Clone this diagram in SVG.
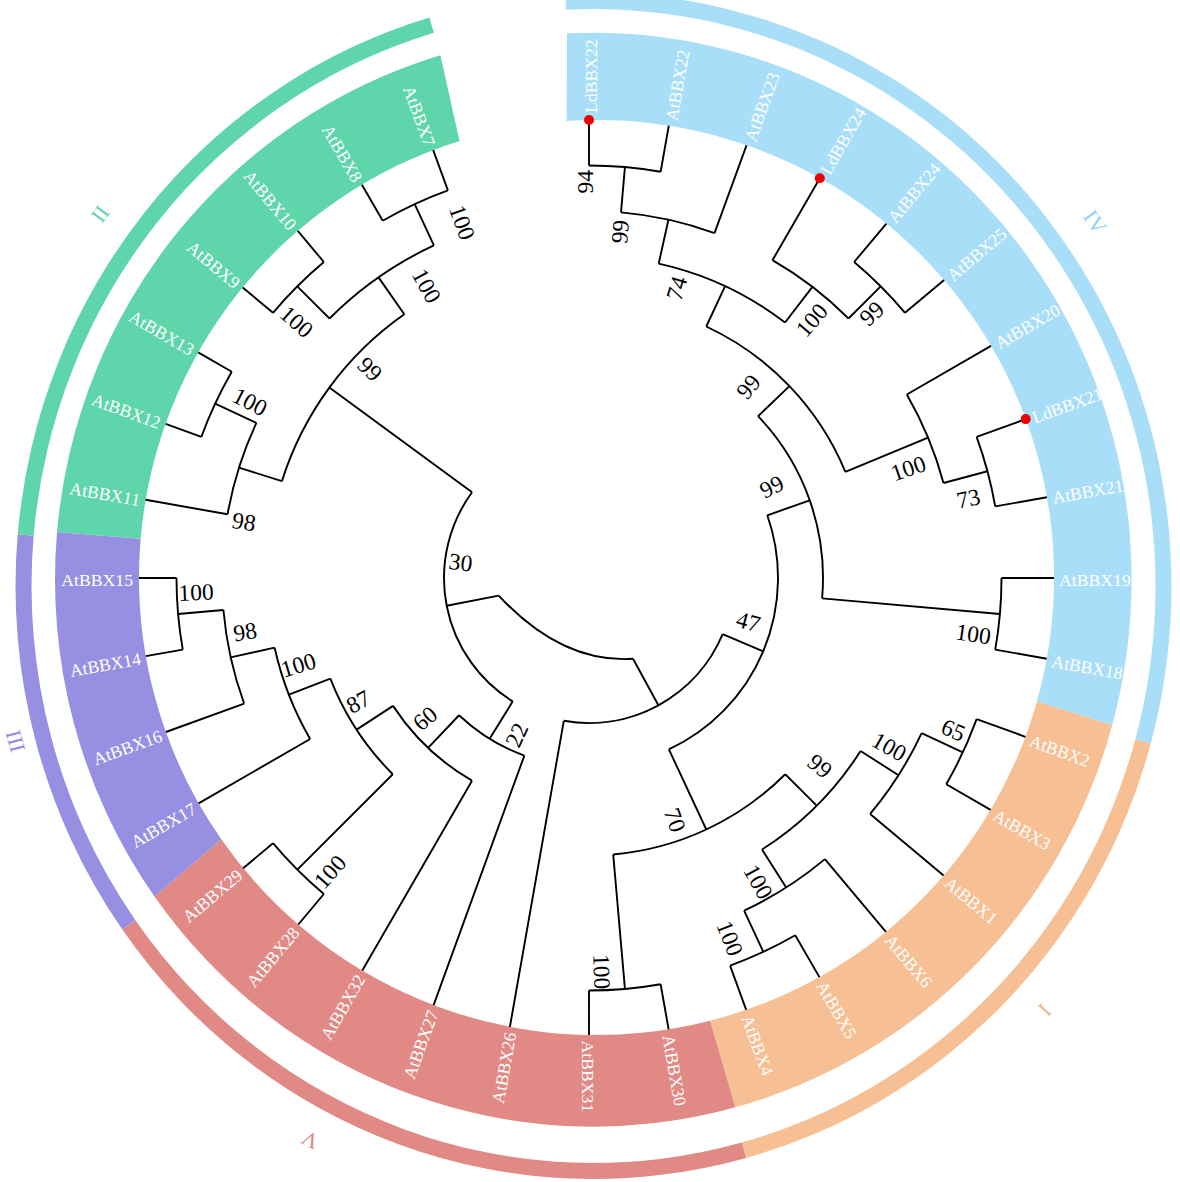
<svg xmlns="http://www.w3.org/2000/svg" width="1180" height="1182" viewBox="0 0 1180 1182">
<style>
.br{fill:none;stroke:#000;stroke-width:1.9}
.lf{font-family:"Liberation Serif","Times New Roman",serif;font-size:17.7px;fill:#fff}
.lfl{text-anchor:end}
.bs{font-family:"Liberation Serif","Times New Roman",serif;font-size:23.5px;fill:#000;text-anchor:middle}
.gl{font-family:"Liberation Serif","Times New Roman",serif;font-size:22px;text-anchor:middle}
.dot{fill:#ee0000}
.c4{fill:#A9DEF9}.c1{fill:#F6BF94}.c5{fill:#E08985}.c3{fill:#978FE1}.c2{fill:#5FD5AB}
</style>
<rect width="1180" height="1182" fill="#fff"/>
<g id="bands">
<path class="c4" d="M566.64,120.91 L567,33.35 A538.3,547 0 0 1 1112.27,724.96 L1036.92,701.38 A457.5,457.5 0 0 0 566.64,120.91 Z"/>
<path class="c1" d="M1036.92,701.38 L1112.27,724.96 A538.3,547 0 0 1 735.34,1107.31 L710.12,1020.73 A457.5,457.5 0 0 0 1036.92,701.38 Z"/>
<path class="c5" d="M710.12,1020.73 L735.34,1107.31 A538.3,547 0 0 1 154.51,896.57 L221.29,839.31 A457.5,457.5 0 0 0 710.12,1020.73 Z"/>
<path class="c3" d="M221.29,839.31 L154.51,896.57 A538.3,547 0 0 1 57.05,532.02 L140.64,538.77 A457.5,457.5 0 0 0 221.29,839.31 Z"/>
<path class="c2" d="M140.64,538.77 L57.05,532.02 A538.3,547 0 0 1 440.41,55.23 L459.53,140.92 A457.5,457.5 0 0 0 140.64,538.77 Z"/>
</g>
<g id="rings">
<path class="c4" d="M566.05,9.69 L565.26,-6.29 A578,593 0 0 1 1150.75,743.48 L1135.32,739.23 A562,577 0 0 0 566.05,9.69 Z"/>
<path class="c1" d="M1135.32,739.23 L1150.75,743.48 A578,593 0 0 1 746.02,1157.98 L741.8,1142.55 A562,577 0 0 0 1135.32,739.23 Z"/>
<path class="c5" d="M741.8,1142.55 L746.02,1157.98 A578,593 0 0 1 122.35,929.51 L135.4,920.24 A562,577 0 0 0 741.8,1142.55 Z"/>
<path class="c3" d="M135.4,920.24 L122.35,929.51 A578,593 0 0 1 17.7,534.31 L33.64,535.71 A562,577 0 0 0 135.4,920.24 Z"/>
<path class="c2" d="M33.64,535.71 L17.7,534.31 A578,593 0 0 1 429.34,17.42 L433.88,32.76 A562,577 0 0 0 33.64,535.71 Z"/>
</g>
<g id="group-labels">
<text class="gl" fill="#8FD2F2" transform="translate(1095,222) rotate(54.9)" y="7.5">IV</text>
<text class="gl" fill="#F3B68A" transform="translate(1045,1010) rotate(133.5)" y="7.5">I</text>
<text class="gl" fill="#DD8583" transform="translate(310,1140) rotate(206.4)" y="7.5">V</text>
<text class="gl" fill="#938BDF" transform="translate(16,741) rotate(254.4)" y="6.5" font-size="20">III</text>
<text class="gl" fill="#5CD3A8" transform="translate(100,214) rotate(306.6)" y="7.5">II</text>
</g>
<g id="connectors">
<path class="br" d="M589,165.5 L589,120 M660.63,171.77 L668.8,125.7 M714.52,233.13 L746.5,145.3 M772.5,260.17 L819.8,178.2 M854.15,262.01 L886.4,223.6 M904.99,312.85 L944.1,280 M906.83,394.5 L991,345.9 M976.62,436.92 L1025.7,419.1 M995.23,506.37 L1046.9,497.3 M1001.5,578 L1054,578 M995.23,649.63 L1046.7,658.7 M976.62,719.08 L1025.4,736.8 M946.24,784.25 L990.6,809.9 M870.14,813.9 L943.6,875.6 M824.9,859.14 L885.9,931.8 M795.25,935.24 L819.4,977.1 M730.08,965.62 L746.2,1009.9 M660.63,984.23 L668.6,1029.3 M589,990.5 L589,1035 M563.82,720.8 L509.9,1026.8 M524.36,755.6 L433.6,1005.1 M472,780.65 L362.3,970.6 M323.85,893.99 L298.3,924.5 M273.01,843.15 L243.2,868.2 M310.14,739 L198.6,803.4 M244.13,703.52 L165.9,732 M182.77,649.63 L145.8,656.1 M176.5,578 L139,578 M227.57,514.27 L145.6,499.8 M201.38,436.92 L165.6,423.9 M231.76,371.75 L198.2,352.4 M273.01,312.85 L242.7,287.4 M323.85,262.01 L297.8,230.9 M382.75,220.76 L361.9,184.7 M447.92,190.38 L433.2,150.1"/>
<path class="br" d="M620.99,212.4 L624.95,167.07 M658.69,263.63 L668.43,219.7 M848.51,318.49 L880.68,286.32 M785.02,322.54 L812.41,286.84 M706.28,326.5 L725.08,286.17 M943.5,483.01 L987.45,471.24 M845.38,471.81 L928.06,437.56 M758.03,416.19 L789.45,386.11 M822.11,598.4 L999.93,613.95 M767.3,515.29 L809.75,500.36 M921.62,733.1 L962.85,752.33 M860.57,751.01 L898.52,775.19 M744.1,910.62 L763.33,951.85 M762.01,849.57 L786.19,887.52 M785.22,774.22 L816.69,805.69 M613.19,854.44 L624.95,988.93 M668.88,749.29 L706.28,829.5 M722.66,634.21 L763.22,651.27 M633.03,658.78 L658.4,705.32 M223.4,609.99 L178.07,613.95 M274.63,647.69 L230.7,657.43 M330.37,678.58 L288.9,694.71 M392.78,774.22 L297.32,869.68 M393.05,705.89 L356.62,729.66 M459.05,715.24 L428.11,747.92 M512.77,701.35 L489.64,738.77 M256.38,422.9 L215.15,403.67 M281.9,481.17 L238.98,467.64 M329.49,318.49 L297.32,286.32 M433.9,245.38 L414.67,204.15 M404.31,314.23 L378.5,277.37 M472.07,492.26 L329.33,387.6 M498.7,595.58 L446.67,605.71"/>
<path class="br" d="M589,165.5 A412.5,412.5 0 0 1 660.63,171.77 M620.99,212.4 A367,367 0 0 1 714.52,233.13 M854.15,262.01 A412.5,412.5 0 0 1 904.99,312.85 M772.5,260.17 A367,367 0 0 1 848.51,318.49 M658.69,263.63 A322,322 0 0 1 785.02,322.54 M976.62,436.92 A412.5,412.5 0 0 1 995.23,506.37 M906.83,394.5 A367,367 0 0 1 943.5,483.01 M706.28,326.5 A277.5,277.5 0 0 1 845.38,471.81 M1001.5,578 A412.5,412.5 0 0 1 995.23,649.63 M758.03,416.19 A234,234 0 0 1 822.11,598.4 M976.62,719.08 A412.5,412.5 0 0 1 946.24,784.25 M921.62,733.1 A367,367 0 0 1 870.14,813.9 M795.25,935.24 A412.5,412.5 0 0 1 730.08,965.62 M824.9,859.14 A367,367 0 0 1 744.1,910.62 M860.57,751.01 A322,322 0 0 1 762.01,849.57 M660.63,984.23 A412.5,412.5 0 0 1 589,990.5 M785.22,774.22 A277.5,277.5 0 0 1 613.19,854.44 M767.3,515.29 A189,189 0 0 1 668.88,749.29 M722.66,634.21 A145,145 0 0 1 563.82,720.8 M182.77,649.63 A412.5,412.5 0 0 1 176.5,578 M244.13,703.52 A367,367 0 0 1 223.4,609.99 M310.14,739 A322,322 0 0 1 274.63,647.69 M323.85,893.99 A412.5,412.5 0 0 1 273.01,843.15 M392.78,774.22 A277.5,277.5 0 0 1 330.37,678.58 M472,780.65 A234,234 0 0 1 393.05,705.89 M524.36,755.6 A189,189 0 0 1 459.05,715.24 M201.38,436.92 A412.5,412.5 0 0 1 231.76,371.75 M227.57,514.27 A367,367 0 0 1 256.38,422.9 M273.01,312.85 A412.5,412.5 0 0 1 323.85,262.01 M382.75,220.76 A412.5,412.5 0 0 1 447.92,190.38 M329.49,318.49 A367,367 0 0 1 433.9,245.38 M281.9,481.17 A322,322 0 0 1 404.31,314.23 M512.77,701.35 A145,145 0 0 1 472.07,492.26 M633.03,658.78 C585,662 540,640 498.7,595.58"/>
</g>
<g id="leaves">
<g id="leaf-LdBBX22"><circle class="dot" cx="589" cy="120" r="5"/><text class="lf" transform="translate(589,120) rotate(-90)" x="7" y="7.5">LdBBX22</text></g>
<g id="leaf-AtBBX22"><text class="lf" transform="translate(668.8,125.7) rotate(-80)" x="5.5" y="7.5">AtBBX22</text></g>
<g id="leaf-AtBBX23"><text class="lf" transform="translate(746.5,145.3) rotate(-70)" x="5.5" y="7.5">AtBBX23</text></g>
<g id="leaf-LdBBX24"><circle class="dot" cx="819.8" cy="178.2" r="5"/><text class="lf" transform="translate(819.8,178.2) rotate(-60)" x="7" y="7.5">LdBBX24</text></g>
<g id="leaf-AtBBX24"><text class="lf" transform="translate(886.4,223.6) rotate(-50)" x="5.5" y="7.5">AtBBX24</text></g>
<g id="leaf-AtBBX25"><text class="lf" transform="translate(944.1,280) rotate(-40)" x="5.5" y="7.5">AtBBX25</text></g>
<g id="leaf-AtBBX20"><text class="lf" transform="translate(991,345.9) rotate(-30)" x="5.5" y="7.5">AtBBX20</text></g>
<g id="leaf-LdBBX21"><circle class="dot" cx="1025.7" cy="419.1" r="5"/><text class="lf" transform="translate(1025.7,419.1) rotate(-20)" x="7" y="7.5">LdBBX21</text></g>
<g id="leaf-AtBBX21"><text class="lf" transform="translate(1046.9,497.3) rotate(-10)" x="5.5" y="7.5">AtBBX21</text></g>
<g id="leaf-AtBBX19"><text class="lf" transform="translate(1054,578) rotate(0)" x="5" y="7.5">AtBBX19</text></g>
<g id="leaf-AtBBX18"><text class="lf" transform="translate(1046.7,658.7) rotate(10)" x="5.5" y="7.5">AtBBX18</text></g>
<g id="leaf-AtBBX2"><text class="lf" transform="translate(1025.4,736.8) rotate(20)" x="5.5" y="7.5">AtBBX2</text></g>
<g id="leaf-AtBBX3"><text class="lf" transform="translate(990.6,809.9) rotate(30)" x="5.5" y="7.5">AtBBX3</text></g>
<g id="leaf-AtBBX1"><text class="lf" transform="translate(943.6,875.6) rotate(40)" x="5.5" y="7.5">AtBBX1</text></g>
<g id="leaf-AtBBX6"><text class="lf" transform="translate(885.9,931.8) rotate(50)" x="5.5" y="7.5">AtBBX6</text></g>
<g id="leaf-AtBBX5"><text class="lf" transform="translate(819.4,977.1) rotate(60)" x="5.5" y="7.5">AtBBX5</text></g>
<g id="leaf-AtBBX4"><text class="lf" transform="translate(746.2,1009.9) rotate(70)" x="5.5" y="7.5">AtBBX4</text></g>
<g id="leaf-AtBBX30"><text class="lf" transform="translate(668.6,1029.3) rotate(80)" x="5.5" y="7.5">AtBBX30</text></g>
<g id="leaf-AtBBX31"><text class="lf" transform="translate(589,1035) rotate(90)" x="5.5" y="7.5">AtBBX31</text></g>
<g id="leaf-AtBBX26"><text class="lf lfl" transform="translate(509.9,1026.8) rotate(-80)" x="-5.5" y="7.5">AtBBX26</text></g>
<g id="leaf-AtBBX27"><text class="lf lfl" transform="translate(433.6,1005.1) rotate(-70)" x="-5.5" y="7.5">AtBBX27</text></g>
<g id="leaf-AtBBX32"><text class="lf lfl" transform="translate(362.3,970.6) rotate(-60)" x="-5.5" y="7.5">AtBBX32</text></g>
<g id="leaf-AtBBX28"><text class="lf lfl" transform="translate(298.3,924.5) rotate(-50)" x="-5.5" y="7.5">AtBBX28</text></g>
<g id="leaf-AtBBX29"><text class="lf lfl" transform="translate(243.2,868.2) rotate(-40)" x="-5.5" y="7.5">AtBBX29</text></g>
<g id="leaf-AtBBX17"><text class="lf lfl" transform="translate(198.6,803.4) rotate(-30)" x="-5.5" y="7.5">AtBBX17</text></g>
<g id="leaf-AtBBX16"><text class="lf lfl" transform="translate(165.9,732) rotate(-20)" x="-5.5" y="7.5">AtBBX16</text></g>
<g id="leaf-AtBBX14"><text class="lf lfl" transform="translate(145.8,656.1) rotate(-10)" x="-5.5" y="7.5">AtBBX14</text></g>
<g id="leaf-AtBBX15"><text class="lf lfl" transform="translate(139,578) rotate(0)" x="-6" y="7.5">AtBBX15</text></g>
<g id="leaf-AtBBX11"><text class="lf lfl" transform="translate(145.6,499.8) rotate(10)" x="-5.5" y="7.5">AtBBX11</text></g>
<g id="leaf-AtBBX12"><text class="lf lfl" transform="translate(165.6,423.9) rotate(20)" x="-5.5" y="7.5">AtBBX12</text></g>
<g id="leaf-AtBBX13"><text class="lf lfl" transform="translate(198.2,352.4) rotate(30)" x="-5.5" y="7.5">AtBBX13</text></g>
<g id="leaf-AtBBX9"><text class="lf lfl" transform="translate(242.7,287.4) rotate(40)" x="-5.5" y="7.5">AtBBX9</text></g>
<g id="leaf-AtBBX10"><text class="lf lfl" transform="translate(297.8,230.9) rotate(50)" x="-5.5" y="7.5">AtBBX10</text></g>
<g id="leaf-AtBBX8"><text class="lf lfl" transform="translate(361.9,184.7) rotate(60)" x="-5.5" y="7.5">AtBBX8</text></g>
<g id="leaf-AtBBX7"><text class="lf lfl" transform="translate(433.2,150.1) rotate(70)" x="-5.5" y="7.5">AtBBX7</text></g>
</g>
<g id="support">
<g id="node-A"><text class="bs" transform="translate(585,181.7) rotate(-90)" y="8">94</text></g>
<g id="node-B"><text class="bs" transform="translate(620,231.7) rotate(-84.9)" y="8">99</text></g>
<g id="node-E"><text class="bs" transform="translate(676.7,288.3) rotate(-73.2)" y="8">74</text></g>
<g id="node-C"><text class="bs" transform="translate(811.7,320) rotate(-49.2)" y="8">100</text></g>
<g id="node-D"><text class="bs" transform="translate(871.7,313.3) rotate(-43.1)" y="8">99</text></g>
<g id="node-F"><text class="bs" transform="translate(748.3,386.7) rotate(-50.2)" y="8">99</text></g>
<g id="node-G"><text class="bs" transform="translate(908.3,468.3) rotate(-19)" y="8">100</text></g>
<g id="node-I"><text class="bs" transform="translate(771.7,486.7) rotate(-26.6)" y="8">99</text></g>
<g id="node-H"><text class="bs" transform="translate(968.3,498.3) rotate(-11.9)" y="8">73</text></g>
<g id="node-J"><text class="bs" transform="translate(973.3,634) rotate(8.3)" y="8">100</text></g>
<g id="node-K"><text class="bs" transform="translate(748.3,621.7) rotate(15.3)" y="8">47</text></g>
<g id="node-Z"><text class="bs" transform="translate(953.3,730) rotate(22.6)" y="8">65</text></g>
<g id="node-AA"><text class="bs" transform="translate(889.3,746.7) rotate(29.3)" y="8">100</text></g>
<g id="node-AB"><text class="bs" transform="translate(820,766) rotate(39.1)" y="8">99</text></g>
<g id="node-AC"><text class="bs" transform="translate(758.3,881.7) rotate(60.9)" y="8">100</text></g>
<g id="node-AD"><text class="bs" transform="translate(730,938.3) rotate(68.6)" y="8">100</text></g>
<g id="node-X"><text class="bs" transform="translate(675,820) rotate(70.4)" y="8">70</text></g>
<g id="node-W"><text class="bs" transform="translate(601.7,971.7) rotate(88.2)" y="8">100</text></g>
<g id="node-V"><text class="bs" transform="translate(516.7,735) rotate(-65.3)" y="8">22</text></g>
<g id="node-AJ"><text class="bs" transform="translate(425,718.3) rotate(-40.5)" y="8">60</text></g>
<g id="node-AH"><text class="bs" transform="translate(358.3,701.7) rotate(-28.2)" y="8">87</text></g>
<g id="node-AG"><text class="bs" transform="translate(298.3,665) rotate(-16.7)" y="8">100</text></g>
<g id="node-AF"><text class="bs" transform="translate(245,631.7) rotate(-8.9)" y="8">98</text></g>
<g id="node-AE"><text class="bs" transform="translate(196,592.3) rotate(-2.1)" y="8">100</text></g>
<g id="node-AI"><text class="bs" transform="translate(330,871.7) rotate(-48.6)" y="8">100</text></g>
<g id="node-U"><text class="bs" transform="translate(460.7,562.3) rotate(7)" y="8">30</text></g>
<g id="node-R"><text class="bs" transform="translate(244,521.7) rotate(9.3)" y="8">98</text></g>
<g id="node-P"><text class="bs" transform="translate(250,401.7) rotate(27.5)" y="8">100</text></g>
<g id="node-Q"><text class="bs" transform="translate(370,369) rotate(43.8)" y="8">99</text></g>
<g id="node-N"><text class="bs" transform="translate(426.7,285.7) rotate(61)" y="8">100</text></g>
<g id="node-M"><text class="bs" transform="translate(462.3,222.3) rotate(70.4)" y="8">100</text></g>
<g id="node-O"><text class="bs" transform="translate(296.7,321.7) rotate(41.2)" y="8">100</text></g>
</g>
</svg>
